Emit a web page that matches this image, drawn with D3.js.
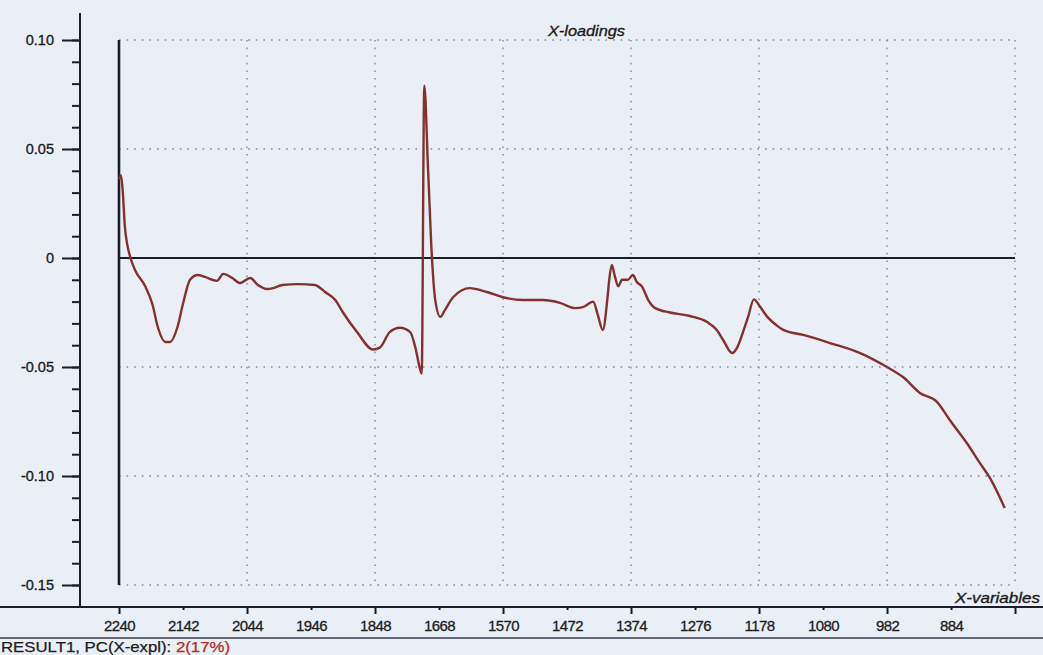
<!DOCTYPE html>
<html>
<head>
<meta charset="utf-8">
<script src="https://cdn.jsdelivr.net/npm/d3@7"></script>
<style>
  html, body { margin: 0; padding: 0; background: #eaeff5; }
  svg { display: block; }
  text { font-family: "Liberation Sans", Arial, sans-serif; }
</style>
</head>
<body>
<svg id="chart" width="1043" height="655"></svg>
<script>
// X-loadings of PC2, plotted against the variable index (tick positions)
const xTickLabels = ["2240","2142","2044","1946","1848","1668","1570","1472","1374","1276","1178","1080","982","884",""];
const yTickValues = [-0.15, -0.10, -0.05, 0, 0.05, 0.10];
const yTickLabels = ["-0.15","-0.10","-0.05","0","0.05","0.10"];

// curve: position along the variable axis (tick units) and loading value
const loadingPos = [0.00,0.03,0.06,0.09,0.13,0.18,0.25,0.41,0.52,0.61,0.72,0.80,0.91,1.00,1.11,1.23,1.34,1.53,1.63,1.77,1.89,2.05,2.17,2.31,2.41,2.55,2.80,3.06,3.22,3.38,3.50,3.72,3.97,4.08,4.23,4.39,4.55,4.63,4.70,4.73,4.77,4.83,4.89,4.94,5.02,5.09,5.22,5.48,5.75,6.00,6.31,6.63,6.89,7.13,7.25,7.41,7.48,7.56,7.63,7.66,7.70,7.75,7.80,7.86,7.95,8.03,8.09,8.17,8.27,8.38,8.61,8.92,9.19,9.34,9.44,9.58,9.66,9.75,9.83,9.92,10.02,10.13,10.28,10.38,10.69,11.11,11.58,12.00,12.25,12.52,12.78,12.98,13.25,13.45,13.61,13.84];
const loadingVal = [0.036,0.038,0.030,0.015,0.006,0.000,-0.0055,-0.013,-0.021,-0.032,-0.0385,-0.0385,-0.032,-0.021,-0.010,-0.0078,-0.0087,-0.0105,-0.0073,-0.0092,-0.0115,-0.0092,-0.0124,-0.0142,-0.0138,-0.0124,-0.012,-0.0124,-0.0156,-0.0193,-0.025,-0.034,-0.042,-0.041,-0.034,-0.032,-0.034,-0.041,-0.0505,-0.053,0.079,0.040,0.000,-0.019,-0.027,-0.024,-0.018,-0.0138,-0.0156,-0.018,-0.0193,-0.0193,-0.0206,-0.023,-0.0225,-0.020,-0.026,-0.033,-0.019,-0.010,-0.0032,-0.0087,-0.013,-0.010,-0.010,-0.0078,-0.011,-0.013,-0.0193,-0.023,-0.025,-0.0266,-0.0294,-0.033,-0.0376,-0.0436,-0.041,-0.034,-0.027,-0.019,-0.0225,-0.027,-0.031,-0.033,-0.0353,-0.039,-0.0436,-0.050,-0.0546,-0.062,-0.066,-0.0743,-0.085,-0.094,-0.101,-0.1147];

const svg = d3.select("#chart");
const W = 1043, H = 655;

const x = d3.scaleLinear().domain([0, 14]).range([119, 1015]);
const y = d3.scaleLinear().domain([-0.15, 0.10]).range([585, 40]);
const axisY = 607;   // baseline of the x axis
const yAxisX = 80;   // position of the y axis line

const ink = "#1b1e29";
const textInk = "#1c1c22";
const gridColor = "#7f8a9a";

// dotted grid
const grid = svg.append("g");
yTickValues.filter(v => v !== 0).forEach(v => {
  grid.append("line")
    .attr("x1", x(0)).attr("x2", x(14))
    .attr("y1", y(v)).attr("y2", y(v))
    .attr("stroke", gridColor).attr("stroke-width", 1.4)
    .attr("stroke-dasharray", "1.6 6");
});
d3.range(2, 15, 2).forEach(i => {
  grid.append("line")
    .attr("x1", x(i)).attr("x2", x(i))
    .attr("y1", y(0.10)).attr("y2", y(-0.15))
    .attr("stroke", gridColor).attr("stroke-width", 1.4)
    .attr("stroke-dasharray", "1.6 6");
});

// zero line
svg.append("line")
  .attr("x1", x(0)).attr("x2", x(14))
  .attr("y1", y(0)).attr("y2", y(0))
  .attr("stroke", ink).attr("stroke-width", 2);

// vertical marker at the first variable
svg.append("line")
  .attr("x1", x(0)).attr("x2", x(0))
  .attr("y1", y(0.10)).attr("y2", y(-0.15))
  .attr("stroke", ink).attr("stroke-width", 2.6);

// y axis
const yMinor = d3.range(-0.15, 0.1001, 0.01).map(v => +v.toFixed(2));
const yMinorAxis = d3.axisLeft(y).tickValues(yMinor).tickSize(8).tickFormat("");
const gYm = svg.append("g").attr("transform", `translate(${yAxisX},0)`).call(yMinorAxis);
gYm.select(".domain").remove();
gYm.selectAll(".tick line").attr("stroke", ink).attr("stroke-width", 2);

const yMajorAxis = d3.axisLeft(y).tickValues(yTickValues).tickSize(18).tickPadding(8)
  .tickFormat((d, i) => yTickLabels[i]);
const gY = svg.append("g").attr("transform", `translate(${yAxisX},0)`).call(yMajorAxis);
gY.select(".domain").remove();
gY.selectAll(".tick line").attr("stroke", ink).attr("stroke-width", 2);
gY.selectAll(".tick text")
  .attr("font-family", "'Liberation Sans', Arial, sans-serif")
  .attr("font-size", 14.5).attr("fill", textInk)
  .attr("stroke", textInk).attr("stroke-width", 0.35);

svg.append("line")
  .attr("x1", yAxisX).attr("x2", yAxisX)
  .attr("y1", 13).attr("y2", axisY)
  .attr("stroke", ink).attr("stroke-width", 2);

// x axis
svg.append("line")
  .attr("x1", 0).attr("x2", W)
  .attr("y1", axisY).attr("y2", axisY)
  .attr("stroke", ink).attr("stroke-width", 2);

const xAxis = d3.axisBottom(x).tickValues(d3.range(0, 15)).tickSize(0).tickPadding(13)
  .tickFormat(i => xTickLabels[i]);
const gX = svg.append("g").attr("transform", `translate(0,${axisY})`).call(xAxis);
gX.select(".domain").remove();
gX.selectAll(".tick line")
  .attr("y2", d => d % 2 === 0 ? 7 : 3)
  .attr("stroke", ink).attr("stroke-width", 2);
gX.selectAll(".tick text")
  .attr("font-family", "'Liberation Sans', Arial, sans-serif")
  .attr("font-size", 15).attr("fill", textInk)
  .attr("stroke", textInk).attr("stroke-width", 0.3)
  .attr("letter-spacing", "-0.6");

// status bar separator
svg.append("line")
  .attr("x1", 0).attr("x2", W)
  .attr("y1", 638).attr("y2", 638)
  .attr("stroke", "#3a3d4a").attr("stroke-width", 1.5);

// loading curve
const pts = loadingPos.map((p, i) => [p, loadingVal[i]]);
const line = d3.line().x(d => x(d[0])).y(d => y(d[1])).curve(d3.curveMonotoneX);
svg.append("path")
  .datum(pts)
  .attr("d", line)
  .attr("fill", "none")
  .attr("stroke", "#843030")
  .attr("stroke-width", 2.4)
  .attr("stroke-linejoin", "round");

// titles
svg.append("text")
  .attr("x", 548).attr("y", 36)
  .attr("textLength", 77).attr("lengthAdjust", "spacingAndGlyphs")
  .attr("font-size", 15).attr("font-style", "italic")
  .attr("fill", textInk).attr("stroke", textInk).attr("stroke-width", 0.35)
  .text("X-loadings");

svg.append("text")
  .attr("x", 955).attr("y", 603)
  .attr("textLength", 85).attr("lengthAdjust", "spacingAndGlyphs")
  .attr("font-size", 15).attr("font-style", "italic")
  .attr("fill", textInk).attr("stroke", textInk).attr("stroke-width", 0.35)
  .text("X-variables");

const status = svg.append("text")
  .attr("x", 1).attr("y", 652)
  .attr("textLength", 229).attr("lengthAdjust", "spacingAndGlyphs")
  .attr("font-size", 14).attr("fill", textInk)
  .attr("stroke", textInk).attr("stroke-width", 0.25);
status.append("tspan").text("RESULT1, PC(X-expl): ");
status.append("tspan").attr("fill", "#b02a2a").attr("stroke", "#b02a2a").text("2(17%)");
</script>
</body>
</html>
